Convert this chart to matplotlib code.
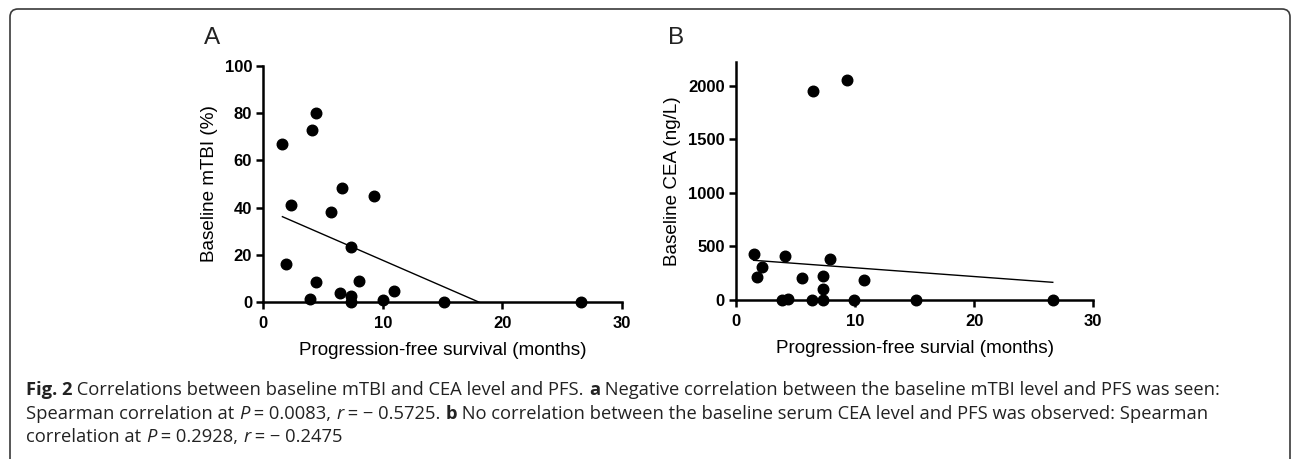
import numpy as np
import matplotlib
matplotlib.use("Agg")
from matplotlib import pyplot as plt
from matplotlib.patches import FancyBboxPatch
from matplotlib.transforms import IdentityTransform

# Panel A: PFS (months) vs baseline mTBI (%)
pfs_a = [1.6, 4.1, 4.4, 6.6, 9.3, 2.3, 5.7, 7.3, 1.9, 4.4, 8.0, 10.9, 6.4, 7.3, 3.9, 10.0, 7.3, 15.1, 26.6]
mtbi_a = [67.0, 72.8, 79.9, 48.3, 45.1, 41.1, 38.2, 23.4, 16.2, 8.5, 9.2, 4.8, 3.8, 2.8, 1.5, 1.1, 0.0, 0.0, 0.0]
fit_a = [-2.195, 39.7]   # slope, intercept

# Panel B: PFS (months) vs baseline CEA (ng/L)
pfs_b = [1.5, 4.1, 7.9, 2.2, 1.8, 5.6, 7.3, 10.8, 7.3, 6.5, 9.3, 3.9, 4.4, 6.4, 7.3, 9.9, 15.1, 26.6]
cea_b = [427, 408, 386, 312, 218, 206, 224, 190, 100, 1956, 2059, 0, 10, 0, 0, 0, 0, 0]
fit_b = [-8.19, 383]

plt.rcParams['font.family'] = ['Liberation Sans', 'DejaVu Sans']

W, H = 1292, 459
fig = plt.figure(figsize=(W / 100, H / 100), dpi=100)

def panel(rect, x, y, fit, ylim, yticks, ylabel, xlabel):
    ax = fig.add_axes(rect)
    ax.plot(x, y, 'o', color='black', ms=7.6, clip_on=False, zorder=3)
    xx = np.array([min(x), max(x)])
    ax.plot(xx, fit[0] * xx + fit[1], color='black', lw=1.0)
    ax.set_xlim(0, 30)
    ax.set_ylim(*ylim)
    ax.set_xticks([0, 10, 20, 30])
    ax.set_yticks(yticks)
    for s in ['top', 'right']:
        ax.spines[s].set_visible(False)
    for s in ['left', 'bottom']:
        ax.spines[s].set_linewidth(1.8)
    ax.tick_params(direction='out', length=5, width=1.8, labelsize=12, pad=3)
    ax.tick_params(axis='x', pad=5)
    for lab in ax.get_xticklabels() + ax.get_yticklabels():
        lab.set_fontweight('bold')
    ax.set_ylabel(ylabel, fontsize=13.6, labelpad=5)
    ax.set_xlabel(xlabel, fontsize=13.6, labelpad=8)
    return ax

axA = panel([263.3 / W, 1 - 302.3 / H, 358.4 / W, 236.6 / H], pfs_a, mtbi_a, fit_a, (0, 100),
            [0, 20, 40, 60, 80, 100], 'Baseline mTBI (%)', 'Progression-free survival (months)')
axB = panel([735.7 / W, 1 - 300 / H, 357.6 / W, 237.7 / H], pfs_b, cea_b, fit_b, (0, 2220),
            [0, 500, 1000, 1500, 2000], 'Baseline CEA (ng/L)', 'Progression-free survial (months)')

fig.text(212 / W, 1 - 38 / H, 'A', fontsize=17.5, ha='center', va='center', color='#222222')
fig.text(676 / W, 1 - 38 / H, 'B', fontsize=17.5, ha='center', va='center', color='#222222')

# rounded frame, open at the bottom (pixel coordinates)
frame = FancyBboxPatch((10, -30), 1280, H - 9 + 30,
                       boxstyle='round,pad=0,rounding_size=8', transform=IdentityTransform(),
                       fill=False, edgecolor='#3a3a3a', lw=1.2)
fig.patches.append(frame)

# caption, written as runs of text
caption = [
    [('Fig. 2', 'bold', 'normal'), (' Correlations between baseline mTBI and CEA level and PFS. ', 'normal', 'normal'),
     ('a', 'bold', 'normal'), (' Negative correlation between the baseline mTBI level and PFS was seen:', 'normal', 'normal')],
    [('Spearman correlation at ', 'normal', 'normal'), ('P', 'normal', 'italic'), (' = 0.0083, ', 'normal', 'normal'),
     ('r', 'normal', 'italic'), (' = \u2212 0.5725. ', 'normal', 'normal'), ('b', 'bold', 'normal'),
     (' No correlation between the baseline serum CEA level and PFS was observed: Spearman', 'normal', 'normal')],
    [('correlation at ', 'normal', 'normal'), ('P', 'normal', 'italic'), (' = 0.2928, ', 'normal', 'normal'),
     ('r', 'normal', 'italic'), (' = \u2212 0.2475', 'normal', 'normal')],
]
line_y = [390, 414, 437]
renderer = fig.canvas.get_renderer()
for runs, ly in zip(caption, line_y):
    xpix = 26
    for txt, wt, st in runs:
        t = fig.text(xpix / W, 1 - ly / H, txt, fontsize=13.2, fontweight=wt, fontstyle=st,
                     family=['Open Sans', 'DejaVu Sans'], va='center', ha='left', color='#222222')
        bb = t.get_window_extent(renderer=renderer)
        xpix += bb.width

fig.savefig('out.png', dpi=100)
